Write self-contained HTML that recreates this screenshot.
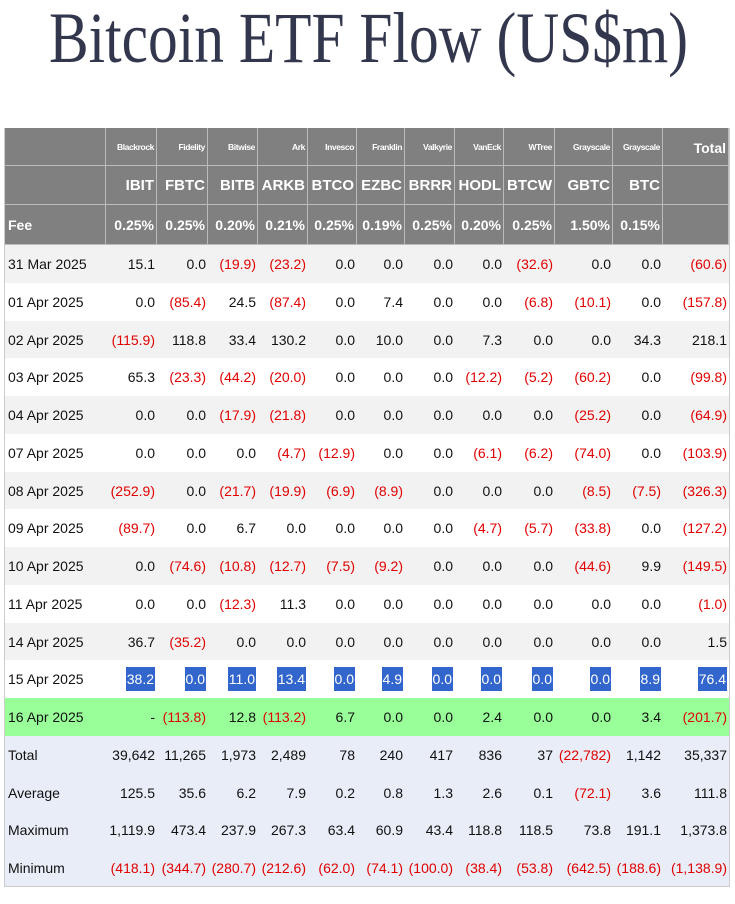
<!DOCTYPE html>
<html><head><meta charset="utf-8"><style>
body{margin:0;width:735px;height:904px;background:#fff;position:relative;overflow:hidden;font-family:"Liberation Sans",Arial,sans-serif}
.c{position:absolute;box-sizing:border-box;font-size:14px;color:#111;display:flex;align-items:center;justify-content:flex-end;padding-right:2px;white-space:nowrap}
.h{background:#808080;color:#fff;font-weight:bold;border-right:1px solid #bbb;border-bottom:1px solid #bbb}
.neg{color:#e00000}
.hl span{background:#3366cc;color:#fff;padding:4px 1px}
</style></head><body>
<svg style="position:absolute;left:0;top:0" width="735" height="100"><text x="49" y="62" font-family="Liberation Serif,serif" font-size="72" fill="#33374d" textLength="639" lengthAdjust="spacingAndGlyphs">Bitcoin ETF Flow (US$m)</text></svg>
<div id="tbl"></div>
<script>
const edges=[5,106,157,208,258,308,357,405,455,504,555,613,663,729];
const issuers=["Blackrock","Fidelity","Bitwise","Ark","Invesco","Franklin","Valkyrie","VanEck","WTree","Grayscale","Grayscale"];
const tickers=["IBIT","FBTC","BITB","ARKB","BTCO","EZBC","BRRR","HODL","BTCW","GBTC","BTC"];
const fees=["0.25%","0.25%","0.20%","0.21%","0.25%","0.19%","0.25%","0.20%","0.25%","1.50%","0.15%"];
const dates=["31 Mar 2025","01 Apr 2025","02 Apr 2025","03 Apr 2025","04 Apr 2025","07 Apr 2025","08 Apr 2025","09 Apr 2025","10 Apr 2025","11 Apr 2025","14 Apr 2025","15 Apr 2025","16 Apr 2025"];
const flows=[
["15.1","0.0","(19.9)","(23.2)","0.0","0.0","0.0","0.0","(32.6)","0.0","0.0","(60.6)"],
["0.0","(85.4)","24.5","(87.4)","0.0","7.4","0.0","0.0","(6.8)","(10.1)","0.0","(157.8)"],
["(115.9)","118.8","33.4","130.2","0.0","10.0","0.0","7.3","0.0","0.0","34.3","218.1"],
["65.3","(23.3)","(44.2)","(20.0)","0.0","0.0","0.0","(12.2)","(5.2)","(60.2)","0.0","(99.8)"],
["0.0","0.0","(17.9)","(21.8)","0.0","0.0","0.0","0.0","0.0","(25.2)","0.0","(64.9)"],
["0.0","0.0","0.0","(4.7)","(12.9)","0.0","0.0","(6.1)","(6.2)","(74.0)","0.0","(103.9)"],
["(252.9)","0.0","(21.7)","(19.9)","(6.9)","(8.9)","0.0","0.0","0.0","(8.5)","(7.5)","(326.3)"],
["(89.7)","0.0","6.7","0.0","0.0","0.0","0.0","(4.7)","(5.7)","(33.8)","0.0","(127.2)"],
["0.0","(74.6)","(10.8)","(12.7)","(7.5)","(9.2)","0.0","0.0","0.0","(44.6)","9.9","(149.5)"],
["0.0","0.0","(12.3)","11.3","0.0","0.0","0.0","0.0","0.0","0.0","0.0","(1.0)"],
["36.7","(35.2)","0.0","0.0","0.0","0.0","0.0","0.0","0.0","0.0","0.0","1.5"],
["38.2","0.0","11.0","13.4","0.0","4.9","0.0","0.0","0.0","0.0","8.9","76.4"],
["-","(113.8)","12.8","(113.2)","6.7","0.0","0.0","2.4","0.0","0.0","3.4","(201.7)"]];
const sumLabels=["Total","Average","Maximum","Minimum"];
const sums=[
["39,642","11,265","1,973","2,489","78","240","417","836","37","(22,782)","1,142","35,337"],
["125.5","35.6","6.2","7.9","0.2","0.8","1.3","2.6","0.1","(72.1)","3.6","111.8"],
["1,119.9","473.4","237.9","267.3","63.4","60.9","43.4","118.8","118.5","73.8","191.1","1,373.8"],
["(418.1)","(344.7)","(280.7)","(212.6)","(62.0)","(74.1)","(100.0)","(38.4)","(53.8)","(642.5)","(188.6)","(1,138.9)"]];
const T=document.getElementById('tbl');
function cell(ci,y,h,txt,cls,bg){
  const d=document.createElement('div');
  d.className='c '+(cls||'');
  d.style.left=edges[ci]+'px';d.style.top=y+'px';
  d.style.width=(edges[ci+1]-edges[ci])+'px';d.style.height=h+'px';
  if(bg)d.style.background=bg;
  if(ci===0){d.style.justifyContent='flex-start';d.style.paddingLeft='3px';}
  const s=document.createElement('span');s.textContent=txt;d.appendChild(s);
  if(/^\(/.test(txt))d.classList.add('neg');
  T.appendChild(d);return d;
}
let d;
for(let c=0;c<13;c++){
  d=cell(c,128,38,c===12?"Total":(c>0?issuers[c-1]:""),"h");
  
  
  if(c>0&&c<12){d.style.fontSize='8.5px';d.style.letterSpacing='-0.4px';}
  else if(c===12){d.style.fontSize='14px';d.style.alignItems='flex-start';d.style.paddingTop='12px';}
  d=cell(c,166,39,(c>0&&c<12)?tickers[c-1]:"","h");
  
  
  d.style.fontSize='15px';
  d=cell(c,205,40,c===0?"Fee":(c<12?fees[c-1]:""),"h");
  
  
}
const rh=37.75;
dates.forEach((dt,r)=>{
  const y=Math.round(245+r*rh),h=Math.round(245+(r+1)*rh)-y;
  const bg=r===12?'#99ff99':(r%2===0?'#f2f2f2':'#fff');
  d=cell(0,y,h,dt,"",bg);
  
  
  flows[r].forEach((v,i)=>{
    d=cell(i+1,y,h,v,r===11?'hl':'',bg);
    
    
  });
});
sumLabels.forEach((lb,r)=>{
  const y=Math.round(736+r*37.5),h=Math.round(736+(r+1)*37.5)-y;
  d=cell(0,y,h,lb,"",'#e9edf7');
  
  
  sums[r].forEach((v,i)=>{
    d=cell(i+1,y,h,v,"",'#e9edf7');
    
    
  });
});
const b=document.createElement('div');
b.style.cssText='position:absolute;left:4px;top:128px;width:726px;height:759px;box-sizing:border-box;border:1px solid #ccc;border-top:none;pointer-events:none';


T.appendChild(b);
</script>
</body></html>
